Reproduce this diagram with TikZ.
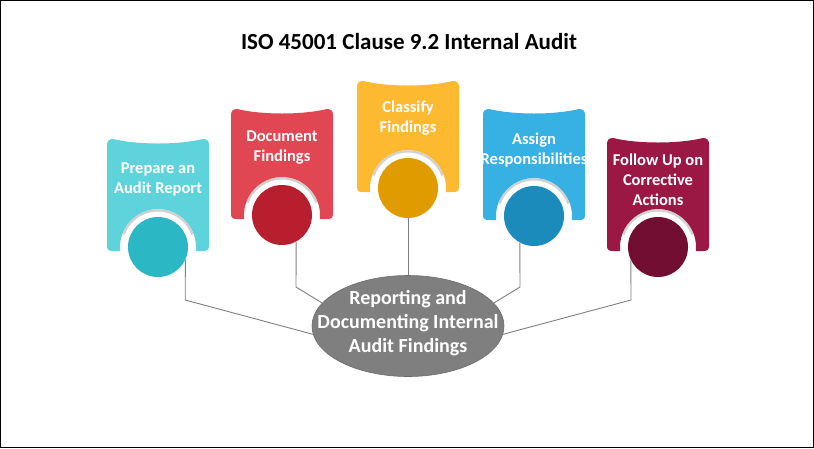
\documentclass[tikz,border=0pt]{standalone}
\usepackage{fontspec}
\setmainfont{Carlito}
\usetikzlibrary{shapes.geometric}
\definecolor{cardA}{HTML}{5FD3DB}\definecolor{circA}{HTML}{2BB7C3}
\definecolor{cardB}{HTML}{E04753}\definecolor{circB}{HTML}{B81E2D}
\definecolor{cardC}{HTML}{FDB930}\definecolor{circC}{HTML}{E09B00}
\definecolor{cardD}{HTML}{37B0E3}\definecolor{circD}{HTML}{1A8BBA}
\definecolor{cardE}{HTML}{9A1843}\definecolor{circE}{HTML}{720E32}
\definecolor{ellgray}{HTML}{7F7F7F}
\definecolor{linegray}{HTML}{808080}
\newcommand\mycard[4]{% cx, top, circle cy, colour
  \fill[#4] (#1-51,#3-1) -- (#1-51,#2+6)
    .. controls (#1-51,#2+2) and (#1-49,#2) .. (#1-45,#2)
    .. controls (#1-20,#2+6) and (#1+20,#2+6) .. (#1+45,#2)
    .. controls (#1+49,#2) and (#1+51,#2+2) .. (#1+51,#2+6)
    -- (#1+51,#3-1)
    .. controls (#1+51,#3+3) and (#1+49,#3+4) .. (#1+45,#3+4)
    -- (#1+37.8,#3+4)
    arc[start angle=6,end angle=-186,radius=38]
    -- (#1-45,#3+4)
    .. controls (#1-49,#3+4) and (#1-51,#3+3) .. (#1-51,#3-1) -- cycle;
  \draw[black,opacity=0.18,line width=2.2pt] (#1,#3) ++(-20:36.6) arc[start angle=-20,end angle=-160,radius=36.6];
}
\tikzset{
  cardtext/.style={text=white,font=\bfseries\fontsize{16.5}{20}\selectfont,align=center,inner sep=0pt},
  dot/.style={circle,minimum size=60pt,inner sep=0pt},
  conn/.style={draw=linegray,line width=0.9pt},
}
\begin{document}
\begin{tikzpicture}[x=1pt,y=-1pt]
\useasboundingbox (0,0) rectangle (814,448);
\fill[white] (0,0) rectangle (814,448);
\draw[black,line width=1pt] (0.5,0.5) rectangle (813.5,447.5);

\node[font=\bfseries\fontsize{23}{26}\selectfont] (title) at (409,42) {ISO 45001 Clause 9.2 Internal Audit};

% cards
\mycard{158}{139}{247}{cardA}
\mycard{282}{109}{215}{cardB}
\mycard{408}{81}{188}{cardC}
\mycard{534}{109}{216}{cardD}
\mycard{658}{138}{247}{cardE}

\node[dot,fill=circA] (c1) at (158,247) {};
\node[dot,fill=circB] (c2) at (282,215) {};
\node[dot,fill=circC] (c3) at (408,188) {};
\node[dot,fill=circD] (c4) at (534,216) {};
\node[dot,fill=circE] (c5) at (658,247) {};

\node[cardtext] (t1) at (158,179) {Prepare an\\Audit Report};
\node[cardtext] (t2) at (282,148) {Document\\Findings};
\node[cardtext] (t3) at (408,118) {Classify\\Findings};
\node[cardtext] (t4) at (534,150) {Assign\\Responsibilities};
\node[cardtext] (t5) at (658,180) {Follow Up on\\Corrective\\Actions};

% central ellipse
\node[ellipse,fill=ellgray,draw=ellgray!85!black,line width=0.6pt,minimum width=192pt,minimum height=101pt,inner sep=0pt] (ell) at (408,326) {};
\node[text=white,font=\bfseries\fontsize{20}{24}\selectfont,align=center,inner sep=0pt] (ellt) at (408,323)
      {Reporting and\\Documenting Internal\\Audit Findings};

% connectors
\coordinate (k1) at (185.2,300);
\coordinate (k2) at (296,287);
\coordinate (k4) at (520,287);
\coordinate (k5) at (631,300);
\draw[conn] (c1.335) -- (k1) -- (ell.185);
\draw[conn] (c2.298) -- (k2) -- (ell.165);
\draw[conn] (c3.south) -- (ell.north);
\draw[conn] (c4.242) -- (k4) -- (ell.15);
\draw[conn] (c5.206) -- (k5) -- (ell.355);
\end{tikzpicture}
\end{document}
